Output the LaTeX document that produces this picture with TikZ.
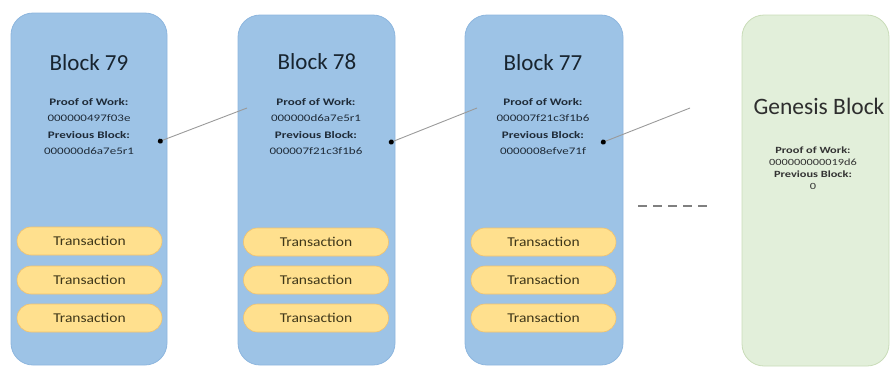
\documentclass[tikz,border=0pt]{standalone}
\usepackage{fontspec}
\setmainfont{Carlito}
\newfontfamily\wideinfo[FakeStretch=1.3]{Carlito}
\newfontfamily\widetx[FakeStretch=1.15]{Carlito}
\usetikzlibrary{arrows.meta}

\definecolor{blockblue}{HTML}{9DC3E6}
\definecolor{blockedge}{HTML}{8DB6DE}
\definecolor{genfill}{HTML}{E2EFDA}
\definecolor{genedge}{HTML}{C9DCB8}
\definecolor{txfill}{HTML}{FFE08E}
\definecolor{txedge}{HTML}{F3C26C}
\definecolor{titleink}{HTML}{18242F}
\definecolor{infoink}{HTML}{1F2B38}
\definecolor{txink}{HTML}{3F3719}
\definecolor{linkgray}{HTML}{9A9A9A}

\tikzset{
  blockbox/.style={draw=blockedge, line width=0.8pt, fill=blockblue,
    rounded corners=22pt, inner sep=0pt},
  genbox/.style={draw=genedge, line width=0.8pt, fill=genfill,
    rounded corners=22pt, inner sep=0pt},
  title/.style={text=titleink, font=\fontsize{23}{26}\selectfont, inner sep=0pt},
  info/.style={text=infoink, align=center, inner sep=0pt,
    font=\wideinfo\fontsize{10}{16.5}\selectfont},
  geninfo/.style={text=black!80, align=center, inner sep=0pt,
    font=\wideinfo\fontsize{9.5}{11.8}\selectfont},
  txpill/.style={draw=txedge, line width=0.6pt, fill=txfill, rounded corners=14pt,
    minimum width=145pt, minimum height=28pt, inner sep=0pt, text=txink,
    font=\widetx\fontsize{13.5}{15}\selectfont},
  link/.style={draw=linkgray, line width=0.9pt,
    -{Circle[length=5pt, fill=black, color=black]}},
}

\begin{document}
\begin{tikzpicture}[x=1pt, y=-1pt]
  \useasboundingbox (0,0) rectangle (890,370);

  % the four blocks
  \node[blockbox, minimum width=156pt, minimum height=352pt] (b79) at (89,189) {};
  \node[blockbox, minimum width=157pt, minimum height=350pt] (b78) at (316.5,190) {};
  \node[blockbox, minimum width=158pt, minimum height=350pt] (b77) at (544,190) {};
  \node[genbox, minimum width=147pt, minimum height=351pt] (gen) at (815.5,190.5) {};

  % titles
  \node[title] (t79) at (89,63) {Block 79};
  \node[title] (t78) at (317,62) {Block 78};
  \node[title] (t77) at (543,63) {Block 77};
  \node[title, text=black!82, font=\fontsize{23.5}{26}\selectfont] (tgen) at (819,106) {Genesis Block};

  % header data of each block
  \node[info, anchor=north] (i79) at (89,98)
    {\textbf{Proof of Work:}\\000000497f03e\\\textbf{Previous Block:}\\000000d6a7e5r1};
  \node[info, anchor=north] (i78) at (316,98)
    {\textbf{Proof of Work:}\\000000d6a7e5r1\\\textbf{Previous Block:}\\000007f21c3f1b6};
  \node[info, anchor=north] (i77) at (543,98)
    {\textbf{Proof of Work:}\\000007f21c3f1b6\\\textbf{Previous Block:}\\0000008efve71f};
  \node[geninfo, anchor=north] (igen) at (813,147)
    {\textbf{Proof of Work:}\\000000000019d6\\\textbf{Previous Block:}\\0};

  % transactions
  \node[txpill] (x79a) at (89.5,241) {Transaction};
  \node[txpill] (x79b) at (89.5,280) {Transaction};
  \node[txpill] (x79c) at (89.5,318) {Transaction};
  \node[txpill] (x78a) at (316,242) {Transaction};
  \node[txpill] (x78b) at (316,280) {Transaction};
  \node[txpill] (x78c) at (316,318) {Transaction};
  \node[txpill] (x77a) at (543.5,242) {Transaction};
  \node[txpill] (x77b) at (543.5,280) {Transaction};
  \node[txpill] (x77c) at (543.5,318) {Transaction};

  % hash links between blocks
  \coordinate (from78) at (247,108);
  \coordinate (to79) at (158,142);
  \coordinate (from77) at (477,108);
  \coordinate (to78) at (389,143);
  \coordinate (fromnext) at (690,108);
  \coordinate (to77) at (601,143);
  \draw[link] (from78) -- (to79);
  \draw[link] (from77) -- (to78);
  \draw[link] (fromnext) -- (to77);

  % omitted blocks
  \coordinate (gapL) at (638,206);
  \coordinate (gapR) at (712,206);
  \draw[draw=black!50, line width=1.4pt, dash pattern=on 9pt off 6pt] (gapL) -- (gapR);
\end{tikzpicture}
\end{document}
